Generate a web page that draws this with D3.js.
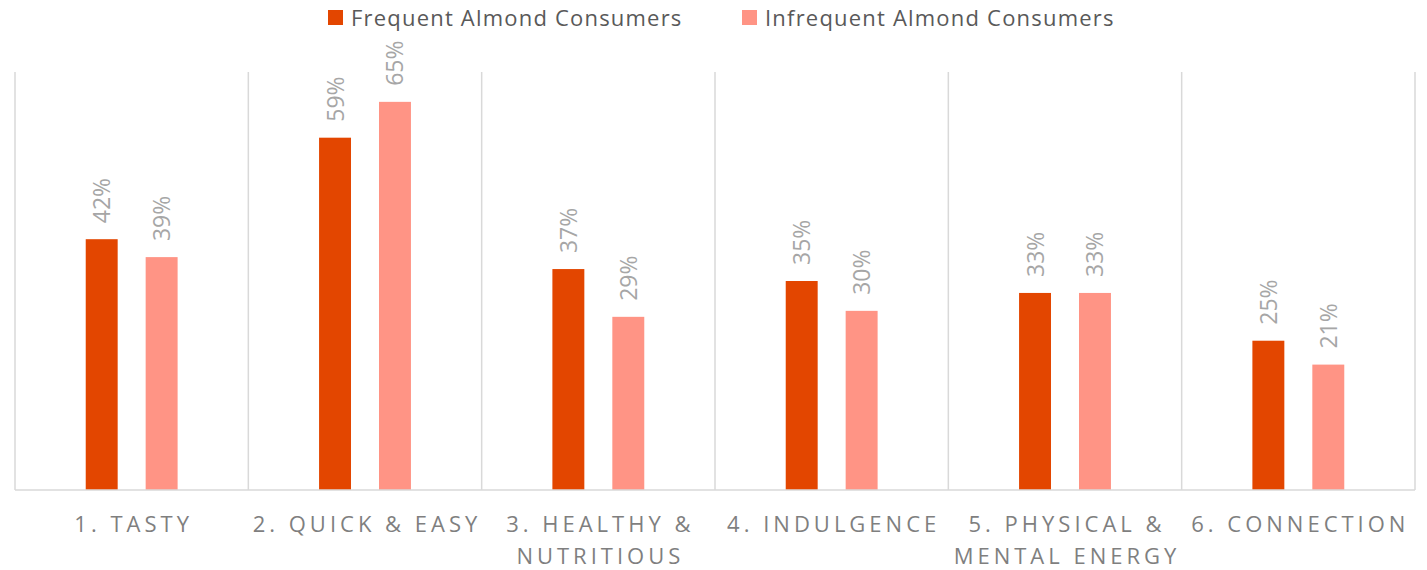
<!DOCTYPE html>
<html>
<head>
<meta charset="utf-8">
<script src="https://cdn.jsdelivr.net/npm/d3@7"></script>
<style>
  html, body { margin: 0; padding: 0; background: #fff; }
  svg { display: block; }
</style>
</head>
<body>
<svg id="chart" width="1427" height="570"></svg>
<script>
// Reasons for eating almonds, by consumer group (share of respondents)
const categories = [
  ["1. TASTY"],
  ["2. QUICK & EASY"],
  ["3. HEALTHY &", "NUTRITIOUS"],
  ["4. INDULGENCE"],
  ["5. PHYSICAL &", "MENTAL ENERGY"],
  ["6. CONNECTION"]
];
const seriesNames = ["Frequent Almond Consumers", "Infrequent Almond Consumers"];
const frequent   = [0.42, 0.59, 0.37, 0.35, 0.33, 0.25];
const infrequent = [0.39, 0.65, 0.29, 0.30, 0.33, 0.21];
const seriesColors = ["#e34600", "#ff9485"];

const svg = d3.select("#chart");
const margin = { top: 72, right: 12, bottom: 80, left: 15 };
const width = 1427, height = 570;
const plotBottom = height - margin.bottom;
const font = "'Open Sans', sans-serif";

const catKeys = categories.map((c, i) => i);
const x0 = d3.scaleBand().domain(catKeys).range([margin.left, width - margin.right]).padding(0);
const x1 = d3.scaleBand().domain([0, 1]).range([0, x0.bandwidth()])
  .paddingInner(0.467).paddingOuter(1.18);
const y = d3.scaleLinear().domain([0, 0.70]).range([plotBottom, margin.top]);

const values = [frequent, infrequent];
const fmt = d3.format(".0%");

// category separators
const grid = svg.append("g");
const sepX = catKeys.map(i => x0(i)).concat([x0(catKeys.length - 1) + x0.bandwidth()]);
grid.selectAll("line.sep").data(sepX).join("line")
  .attr("x1", d => d).attr("x2", d => d)
  .attr("y1", margin.top).attr("y2", plotBottom)
  .attr("stroke", "#d9d9d9").attr("stroke-width", 1.5);

// bars
const groups = svg.append("g").selectAll("g").data(catKeys).join("g")
  .attr("transform", i => `translate(${x0(i)},0)`);

groups.selectAll("rect").data(i => values.map((v, s) => ({ s, v: v[i] }))).join("rect")
  .attr("x", d => x1(d.s))
  .attr("width", x1.bandwidth())
  .attr("y", d => y(d.v))
  .attr("height", d => plotBottom - y(d.v))
  .attr("fill", d => seriesColors[d.s]);

// value labels, rotated
groups.selectAll("text").data(i => values.map((v, s) => ({ s, v: v[i] }))).join("text")
  .attr("transform", d => `translate(${x1(d.s) + x1.bandwidth() / 2 + 8.5},${y(d.v) - 16}) rotate(-90)`)
  .attr("text-anchor", "start")
  .attr("font-family", font)
  .attr("font-size", 23)
  .attr("fill", "#a6a6a6")
  .text(d => fmt(d.v));

// baseline
svg.append("line")
  .attr("x1", margin.left).attr("x2", width - margin.right)
  .attr("y1", plotBottom).attr("y2", plotBottom)
  .attr("stroke", "#d9d9d9").attr("stroke-width", 1.5);

// category axis labels
const axis = d3.axisBottom(x0).tickSize(0).tickFormat(() => "");
const axisG = svg.append("g").attr("transform", `translate(0,${plotBottom})`).call(axis);
axisG.select(".domain").remove();
axisG.selectAll(".tick").each(function (i) {
  const t = d3.select(this).append("text")
    .attr("text-anchor", "middle")
    .attr("font-family", font)
    .attr("font-size", 22)
    .attr("letter-spacing", 4)
    .attr("fill", "#7f7f7f");
  categories[i].forEach((line, k) => {
    t.append("tspan").attr("x", 2).attr("y", 42 + k * 32).text(line);
  });
});

// legend
const legend = svg.append("g");
const legendX = [328, 742];
seriesNames.forEach((name, s) => {
  legend.append("rect").attr("x", legendX[s]).attr("y", 10).attr("width", 15).attr("height", 15)
    .attr("fill", seriesColors[s]);
  legend.append("text").attr("x", legendX[s] + 23).attr("y", 26)
    .attr("font-family", font)
    .attr("font-size", 22)
    .attr("letter-spacing", 1.2)
    .attr("fill", "#595959")
    .text(name);
});
</script>
</body>
</html>
